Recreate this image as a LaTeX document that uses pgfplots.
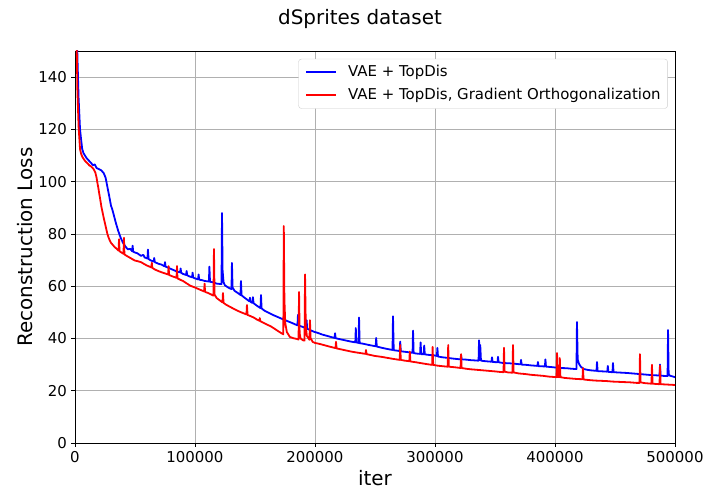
\documentclass[border=0pt]{standalone}
\usepackage{fontspec}
\setmainfont{DejaVu Sans}
\usepackage{pgfplots}
\pgfplotsset{compat=1.18}
\definecolor{gridgray}{RGB}{176,176,176}
\definecolor{legdraw}{RGB}{204,204,204}
\begin{document}
\begin{tikzpicture}
\useasboundingbox (-75bp,-61bp) rectangle (645bp,443bp);
\begin{axis}[
  at={(0,0)}, anchor=south west,
  scale only axis, width=600bp, height=392bp,
  xmin=0, xmax=500000, ymin=0, ymax=150,
  xtick={0,100000,200000,300000,400000,500000},
  ytick={0,20,40,60,80,100,120,140},
  scaled x ticks=false,
  xticklabel style={/pgf/number format/fixed, /pgf/number format/1000 sep={}, /pgf/number format/assume math mode=true},
  yticklabel style={/pgf/number format/assume math mode=true},
  tick label style={font=\fontsize{15}{18}\selectfont},
  tick align=outside, major tick length=3.5bp, tick pos=left,
  tick style={black, line width=0.8bp},
  xticklabel shift=1bp, yticklabel shift=1bp,
  grid=major, grid style={color=gridgray, line width=0.8bp},
  axis line style={line width=0.8bp},
  title={dSprites dataset},
  title style={font=\fontsize{20}{24}\selectfont, at={(axis description cs:0.475,1.067)}, anchor=center},
  xlabel={iter},
  ylabel={Reconstruction Loss},
  xlabel style={font=\fontsize{20}{24}\selectfont, at={(axis description cs:0.5,-0.0893)}, anchor=center},
  ylabel style={font=\fontsize{20}{24}\selectfont, at={(axis description cs:-0.083,0.5)}, anchor=center, rotate=0},
  legend style={at={(axis description cs:0.988,0.98)}, anchor=north east,
    font=\fontsize{15}{18}\selectfont, draw=legdraw, rounded corners=3bp,
    inner xsep=7bp, inner ysep=6bp, row sep=8.5bp, column sep=11bp,
    nodes={inner sep=0pt, text height=11bp, text depth=3.5bp}},
  legend cell align=left,
  legend image code/.code={\draw[#1, line width=1.6bp] (0bp,0bp) -- (30bp,0bp);},
  every axis plot/.append style={line width=1.8bp, line join=round},
]
\addplot[color={rgb,255:red,0;green,0;blue,255}] coordinates {
(0,250) (1000,175) (2000,148) (3000,132) (4200,120) (5000,116.5) (6000,112.5) (7000,111) (8000,110.2) (10000,108.8) (12500,107.6) (15000,106.3) (16500,106.6) (18000,105.2) (20000,104.8) (22000,104.3) (24000,103.2) (25500,101.5) (27000,98) (28500,94.5) (30000,90.8) (31000,89.5) (32000,87.8) (34000,84.3) (36000,81.2) (38000,78.6) (40000,76.6) (42000,75.2) (44000,74.1) (46000,74.3) (47600,73.4) (48000,75.5) (48500,73.2) (50000,72.9) (52000,72.6) (55000,71.6) (57000,72) (58000,71) (60400,70.6) (60800,74) (61300,70.4) (63000,69.9) (65600,69.4) (66000,70.8) (66500,69.2) (68000,68.9) (70000,68.5) (72000,68.3) (74600,67.6) (75000,69.2) (75500,67.5) (78000,67) (80000,66.6) (82000,66.2) (85000,65.6) (87600,65.3) (88000,66.8) (88500,65.1) (90000,64.7) (92600,64.3) (93000,65.8) (93500,64.2) (95000,63.8) (97600,63.4) (98000,65.2) (98500,63.3) (100000,63) (102600,62.6) (103000,64.5) (103500,62.5) (106000,62.3) (108000,62) (111600,61.8) (112000,67.5) (112500,61.7) (115000,61.5) (118000,61) (120000,60.9) (122100,60.8) (122500,88) (123000,66) (123800,61.5) (125000,60.3) (126700,59.8) (128000,59.4) (130400,58.9) (130800,68.9) (131300,59.5) (133000,58.2) (135000,57.6) (137500,56.8) (137900,56.6) (138300,62) (138800,56.5) (141000,55.7) (143000,55) (145400,54.2) (145800,55.6) (146300,54) (147900,53.6) (148300,55.8) (148800,53.5) (151700,52.5) (154600,51.6) (155000,56.6) (155500,51.5) (158000,50.6) (161000,49.9) (165000,49) (168000,48.4) (170000,48) (173000,47.4) (176700,46.7) (180000,46.1) (183000,45.5) (185400,45) (185800,49) (186300,44.9) (188000,44.7) (190000,44.4) (192600,43.8) (193000,47) (193500,43.7) (196000,43.2) (199000,42.6) (202500,42.1) (206000,41.5) (210000,41) (213000,40.6) (216300,40.2) (216700,42) (217200,40.1) (220000,39.8) (225000,39.3) (230000,38.8) (233600,38.5) (234000,44) (234400,38.5) (236300,38.3) (236700,48) (237200,38.2) (240000,38) (245000,37.5) (250600,37) (251000,40.2) (251500,36.9) (255000,36.5) (260000,36) (264600,35.6) (265000,48.5) (265600,35.5) (270600,35.2) (271000,38.8) (271500,35.1) (275000,34.9) (280000,34.6) (281300,34.5) (281700,43) (282200,34.4) (285000,34.2) (287600,34.1) (288000,38.5) (288500,34) (290600,34) (291000,37.3) (291500,33.9) (295000,33.7) (300000,33.5) (301600,33.3) (302000,36.4) (302500,33.1) (306000,32.8) (310000,32.6) (315000,32.3) (321300,32) (321700,33.7) (322200,32) (326000,31.9) (330000,31.7) (336300,31.5) (336700,39.3) (337300,31.8) (337700,37.5) (338300,31.5) (342000,31.3) (347100,31.1) (347500,32.8) (348000,31) (352100,30.9) (352500,33) (353000,30.9) (357000,30.6) (362000,30.5) (367000,30.3) (371300,30.1) (371700,31.8) (372200,30) (376000,29.9) (380000,29.7) (385400,29.5) (385800,31) (386300,29.4) (391600,29.3) (392000,32) (392500,29.2) (396000,29.1) (400000,28.9) (405000,28.7) (410000,28.6) (414000,28.4) (417900,28.3) (418300,46.3) (418900,32) (420000,30.3) (421500,29.2) (424000,28.3) (427000,28) (430000,27.8) (434600,27.6) (435000,31) (435500,27.5) (440000,27.4) (443600,27.3) (444000,29.5) (444500,27.2) (447900,27.1) (448300,30.6) (448800,27.1) (452000,27) (456000,26.9) (460000,26.8) (465000,26.6) (470000,26.4) (475000,26.2) (480000,26) (484000,25.9) (487100,25.8) (487500,30) (488000,25.8) (490000,25.7) (493800,25.6) (494200,43.2) (494700,26.5) (495500,25.8) (497000,25.6) (500000,25.2)
};
\addlegendentry{VAE + TopDis}
\addplot[color={rgb,255:red,255;green,0;blue,0}] coordinates {
(0,250) (1000,165) (2000,135) (3000,121) (4200,112.5) (5000,110.8) (6000,109.6) (7500,108.5) (9000,107.6) (10500,107) (12000,106.2) (13500,105.8) (15000,105.1) (16000,104.4) (17000,103.4) (18000,101.5) (18500,100) (19500,97.5) (20000,96) (21000,93.3) (22000,90.4) (23000,88.2) (24000,86) (25000,84) (26000,82) (27000,80) (28000,78.6) (29000,77.5) (30000,76.6) (31500,75.8) (33000,75) (35000,74.2) (36300,73.6) (36700,78) (37100,73.4) (39000,72.8) (40400,72.4) (40800,78.5) (41200,72.2) (42000,71.9) (45000,71.1) (48000,70.3) (50000,69.8) (52000,69.6) (55000,69.2) (58000,68.4) (60000,67.9) (63600,67.2) (64000,69) (64400,67) (67000,66.3) (70000,65.7) (73000,65.2) (75000,64.9) (77600,64.5) (78000,67.7) (78400,64.3) (81000,63.8) (84600,63.2) (85000,67.7) (85400,63) (88000,62.4) (90000,62) (93000,61.1) (96000,60.2) (100000,59.5) (103000,58.9) (107600,58) (108000,61) (108400,57.8) (111000,57.4) (115400,56.4) (115800,74.2) (116300,56.8) (118000,55.5) (120000,54.8) (122900,53.8) (123300,57.4) (123800,53.6) (126000,52.9) (128000,52.4) (130000,51.9) (133000,51.2) (136000,50.5) (139000,49.9) (142900,49.2) (143300,52.8) (143800,49) (146000,48.6) (149000,48) (151700,47.2) (153600,46.8) (154000,47.8) (154400,46.6) (157000,46) (160000,45.3) (163000,44.7) (166000,43.8) (169000,42.9) (172000,42) (173600,41.6) (174000,83) (174500,55) (175200,46) (176500,42.5) (179000,40.6) (182000,40.1) (185000,39.8) (186300,39.6) (186700,57.8) (187200,42) (188000,40) (190000,39.3) (191300,39.2) (191700,64.5) (192300,45) (193200,41) (195400,39.5) (195800,47) (196300,40.2) (198000,38.7) (200000,38.3) (204000,37.9) (208000,37.4) (212000,36.9) (217100,36.3) (217500,38.7) (218000,36.2) (222000,35.8) (226000,35.4) (230000,35) (235000,34.6) (238000,34.4) (242100,34.1) (242500,35.6) (243000,34) (246000,33.7) (250000,33.3) (255000,33) (260000,32.6) (265000,32.2) (270600,31.8) (271000,37.5) (271500,31.8) (275000,31.5) (278600,31.3) (279000,35) (279500,31.2) (284000,30.9) (289000,30.5) (293000,30.2) (297600,29.9) (298000,36.8) (298500,29.9) (302000,29.6) (306000,29.4) (310600,29.2) (311000,37.5) (311500,29.2) (316000,29) (321300,28.7) (321700,34) (322200,28.7) (326000,28.4) (330000,28.2) (335000,28) (340000,27.8) (345000,27.6) (350000,27.4) (354000,27.2) (357100,27.1) (357500,36.4) (358000,27.3) (361000,27) (364600,26.9) (365000,37.5) (365500,27) (370000,26.6) (375000,26.4) (380000,26.1) (385000,25.9) (390000,25.7) (395000,25.4) (401300,25.2) (401700,34.4) (402200,25.3) (403600,25.2) (404000,32.5) (404500,25.2) (408000,24.9) (413000,24.7) (418000,24.5) (422900,24.4) (423300,28.7) (423800,24.3) (428000,24.1) (433000,23.9) (438000,23.8) (443000,23.7) (448000,23.5) (453000,23.4) (458000,23.3) (463000,23.2) (468000,23) (470400,23) (470800,34) (471300,23.2) (475000,22.9) (480400,22.7) (480800,29.9) (481300,22.7) (484000,22.6) (487100,22.5) (487500,29.6) (488000,22.5) (492000,22.4) (496000,22.3) (500000,22.2)
};
\addlegendentry{VAE + TopDis, Gradient Orthogonalization}
\end{axis}
\end{tikzpicture}
\end{document}
